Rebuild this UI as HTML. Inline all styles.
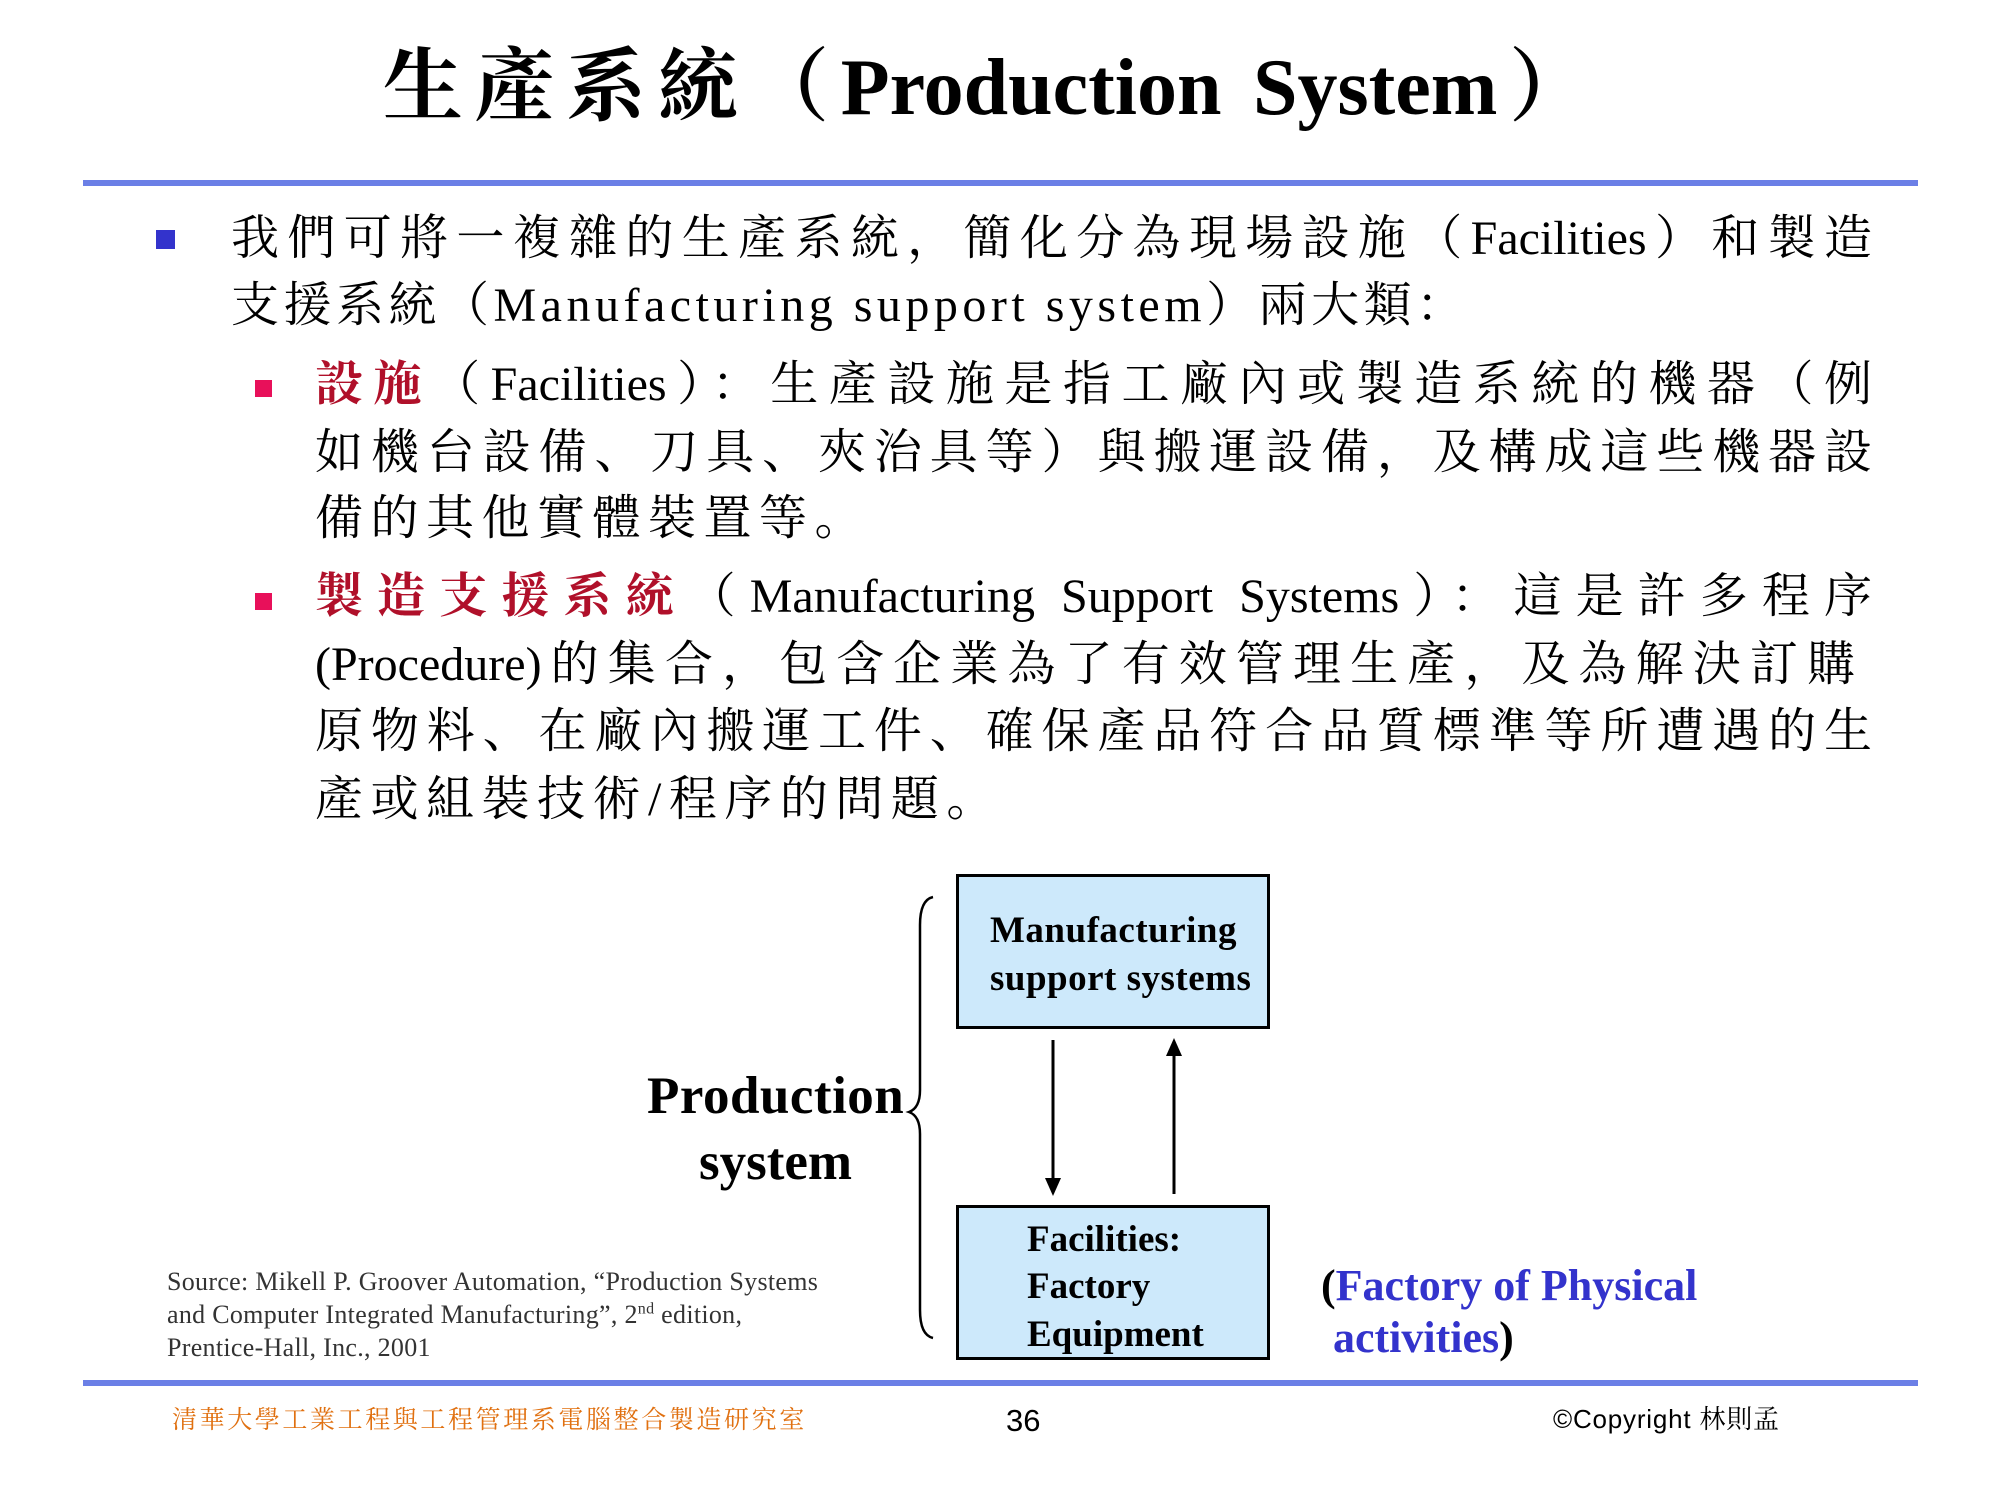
<!DOCTYPE html>
<html><head><meta charset="utf-8">
<style>
html,body{margin:0;padding:0;background:#fff;}
body{width:2000px;height:1500px;position:relative;overflow:hidden;font-family:"Liberation Serif","Noto Serif CJK SC","Noto Sans CJK TC",serif;color:#000;}
.a{position:absolute;white-space:nowrap;}
.j{position:absolute;white-space:nowrap;text-align:justify;text-align-last:justify;}
.line{position:absolute;left:83px;width:1835px;height:6px;background:#6b7fe6;}
.t{font-size:48px;line-height:60px;}
.red{color:#b0102a;font-weight:bold;}
.box{position:absolute;background:#cde9fb;border:3px solid #000;box-sizing:border-box;}
.bx{font-weight:bold;font-size:37px;line-height:44px;}
</style></head><body>

<div class="j" style="left:383px;top:38px;width:1206px;font-size:80px;line-height:100px;font-weight:bold;">生產系統（Production System）</div>
<div class="line" style="top:180px;"></div>

<div class="a" style="left:156px;top:230px;width:19px;height:19px;background:#3333cc;"></div>
<div class="j t" style="left:231px;top:209px;width:1641px;">我們可將一複雜的生產系統，簡化分為現場設施（Facilities）和製造</div>
<div class="a t" style="left:231px;top:276px;letter-spacing:4.5px;">支援系統（Manufacturing support system）兩大類：</div>

<div class="a" style="left:255px;top:380px;width:17px;height:17px;background:#e8105a;"></div>
<div class="j t" style="left:315px;top:355px;width:1557px;"><span class="red">設施</span>（Facilities）：生產設施是指工廠內或製造系統的機器（例</div>
<div class="j t" style="left:315px;top:423px;width:1557px;">如機台設備、刀具、夾治具等）與搬運設備，及構成這些機器設</div>
<div class="a t" style="left:315px;top:489px;letter-spacing:7.5px;">備的其他實體裝置等。</div>

<div class="a" style="left:255px;top:593px;width:17px;height:17px;background:#e8105a;"></div>
<div class="j t" style="left:315px;top:567px;width:1557px;"><span class="red">製造支援系統</span>（Manufacturing Support Systems）：這是許多程序</div>
<div class="j t" style="left:315px;top:635px;width:1540px;">(Procedure)的集合，包含企業為了有效管理生產，及為解決訂購</div>
<div class="j t" style="left:315px;top:702px;width:1557px;">原物料、在廠內搬運工件、確保產品符合品質標準等所遭遇的生</div>
<div class="a t" style="left:315px;top:770px;letter-spacing:7.5px;">產或組裝技術/程序的問題。</div>

<div class="box" style="left:956px;top:874px;width:314px;height:155px;"></div>
<div class="a bx" style="left:990px;top:909px;letter-spacing:0.5px;">Manufacturing</div>
<div class="a bx" style="left:990px;top:957px;letter-spacing:0.5px;">support systems</div>

<div class="box" style="left:956px;top:1205px;width:314px;height:155px;"></div>
<div class="a bx" style="left:1027px;top:1218px;">Facilities:</div>
<div class="a bx" style="left:1027px;top:1265px;">Factory</div>
<div class="a bx" style="left:1027px;top:1313px;">Equipment</div>

<svg class="a" style="left:0;top:0;" width="2000" height="1500">
<line x1="1053" y1="1040" x2="1053" y2="1180" stroke="#000" stroke-width="3"/>
<polygon points="1045,1178 1061,1178 1053,1196" fill="#000"/>
<line x1="1174" y1="1194" x2="1174" y2="1054" stroke="#000" stroke-width="3"/>
<polygon points="1166,1056 1182,1056 1174,1038" fill="#000"/>
<path d="M933,897 Q920,900 920,925 L920,1090 Q920,1108 909,1112 Q920,1116 920,1134 L920,1310 Q920,1335 933,1338" fill="none" stroke="#000" stroke-width="2.5"/>
</svg>

<div class="a" style="left:647px;top:1066px;font-size:53px;line-height:60px;font-weight:bold;letter-spacing:0.5px;">Production</div>
<div class="a" style="left:699px;top:1132px;font-size:53px;line-height:60px;font-weight:bold;">system</div>

<div class="a" style="left:1321px;top:1260px;font-size:44px;line-height:52px;font-weight:bold;color:#3333cc;"><span style="color:#000">(</span>Factory of Physical</div>
<div class="a" style="left:1333px;top:1312px;font-size:44px;line-height:52px;font-weight:bold;color:#3333cc;">activities<span style="color:#000">)</span></div>

<div class="a" style="left:167px;top:1265px;font-size:26px;line-height:33px;color:#333;letter-spacing:0.3px;">Source: Mikell P. Groover Automation, “Production Systems<br>and Computer Integrated Manufacturing”, 2<sup style="font-size:16px;line-height:0">nd</sup> edition,<br>Prentice-Hall, Inc., 2001</div>

<div class="line" style="top:1380px;"></div>

<div class="a" style="left:172px;top:1406px;font-size:25px;line-height:30px;color:#e07010;letter-spacing:2.6px;">清華大學工業工程與工程管理系電腦整合製造研究室</div>
<div class="a" style="left:1006px;top:1403px;font-size:31px;line-height:36px;font-family:'Liberation Sans',sans-serif;">36</div>
<div class="a" style="left:1553px;top:1404px;font-size:26px;line-height:30px;letter-spacing:0.8px;font-family:'Liberation Sans','Noto Serif CJK SC',sans-serif;">©Copyright 林則孟</div>
</body></html>
